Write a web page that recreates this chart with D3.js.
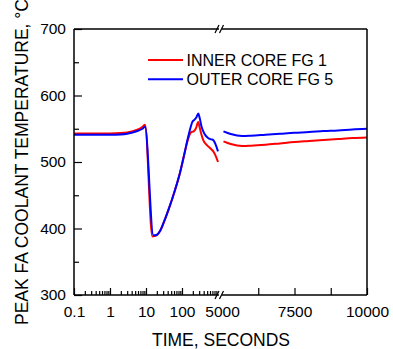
<!DOCTYPE html>
<html>
<head>
<meta charset="utf-8">
<script src="https://cdn.jsdelivr.net/npm/d3@7"></script>
<style>
  body { margin: 0; background: #fff; }
  svg { font-family: "Liberation Sans", Arial, sans-serif; }
</style>
</head>
<body>
<div id="chart"></div>
<script>
// data (time in seconds, temperature in C)
// left part of the axis is log (0.1 - 1000 s), right part is linear (5000 - 10000 s)
var innerLeftT = [0.1, 1, 2, 3, 4, 6, 8, 9.4, 15, 17, 20, 25, 30, 42, 64, 88, 114, 140, 160, 180, 210, 240, 284, 300, 340, 390, 500, 600, 740, 850, 1000];
var innerLeftV = [543, 543, 543.5, 544.5, 546, 549, 553, 556, 388, 388.5, 390, 397, 407, 428, 458, 484, 510, 530, 540, 545, 546, 550, 560, 555, 543, 533, 525, 521, 516, 510, 500];
var outerLeftT = [0.1, 1, 2, 3, 4, 6, 8, 9.4, 16, 18, 21, 25, 30, 42, 64, 88, 114, 150, 175, 193, 216, 250, 284, 310, 350, 390, 450, 530, 650, 740, 850, 1000];
var outerLeftV = [541, 541, 541.5, 542.5, 544, 547, 550, 553, 390, 390, 391.5, 397, 407, 428, 458, 484, 510, 539, 553, 560, 563, 567, 573, 566, 553, 546, 540, 536, 534, 533, 527, 516];

var rightT = [5050, 5300, 5700, 6000, 6500, 7000, 7500, 8000, 8500, 9000, 9500, 10000];
var innerRightV = [531, 527, 524, 524.5, 526, 528, 530, 531.5, 533, 534.5, 536, 537];
var outerRightV = [546, 542, 539, 539.5, 541, 542.5, 544, 545, 546.5, 547.5, 549, 550];

var yTicks = [300, 400, 500, 600, 700];
var yMinor = [350, 450, 550, 650];
var logTicks = [0.1, 1, 10, 100];
var logMinor = [0.2, 0.3, 0.4, 0.5, 0.6, 0.7, 0.8, 0.9, 2, 3, 4, 5, 6, 7, 8, 9,
                20, 30, 40, 50, 60, 70, 80, 90, 200, 300, 400, 500, 600, 700, 800, 900];
var linTicks = [5000, 6250, 7500, 8750, 10000];
var linLabels = [5000, 7500, 10000];

var seriesNames = ["INNER CORE FG 1", "OUTER CORE FG 5"];
var colors = ["#ff0000", "#0000ff"];

var svgWidth = 393, svgHeight = 349;
var plotLeft = 74, plotRight = 367, plotTop = 29, plotBottom = 295;

var svg = d3.select("#chart").append("svg")
    .attr("width", svgWidth)
    .attr("height", svgHeight);

var xLog = d3.scaleLog().domain([0.1, 1000]).range([plotLeft, 218]);
var xLin = d3.scaleLinear().domain([5000, 10000]).range([222, plotRight]);
var y = d3.scaleLinear().domain([300, 700]).range([plotBottom, plotTop]);

// curves
var lineLog = d3.line().x(d => xLog(d[0])).y(d => y(d[1])).curve(d3.curveMonotoneX);
var lineLin = d3.line().x(d => xLin(d[0])).y(d => y(d[1])).curve(d3.curveMonotoneX);

var curves = [
  { left: d3.zip(innerLeftT, innerLeftV), right: d3.zip(rightT, innerRightV), color: colors[0] },
  { left: d3.zip(outerLeftT, outerLeftV), right: d3.zip(rightT, outerRightV), color: colors[1] }
];

curves.forEach(function(c) {
  svg.append("path").attr("d", lineLog(c.left))
    .attr("fill", "none").attr("stroke", c.color).attr("stroke-width", 2)
    .attr("stroke-linejoin", "round");
  svg.append("path").attr("d", lineLin(c.right))
    .attr("fill", "none").attr("stroke", c.color).attr("stroke-width", 2)
    .attr("stroke-linejoin", "round");
});

// y axis
svg.append("g")
  .attr("transform", `translate(${plotLeft},0)`)
  .call(d3.axisLeft(y).tickValues(yTicks).tickSizeInner(-8).tickSizeOuter(0).tickPadding(8));
svg.append("g")
  .attr("transform", `translate(${plotLeft},0)`)
  .call(d3.axisLeft(y).tickValues(yMinor).tickSizeInner(-5).tickSizeOuter(0).tickFormat(""));

// bottom axis, log part
svg.append("g")
  .attr("transform", `translate(0,${plotBottom})`)
  .call(d3.axisBottom(xLog).tickValues(logTicks).tickSizeInner(-7).tickSizeOuter(0).tickPadding(11)
        .tickFormat(d => d < 1 ? "0.1" : d3.format("d")(d)));
svg.append("g")
  .attr("transform", `translate(0,${plotBottom})`)
  .call(d3.axisBottom(xLog).tickValues(logMinor).tickSizeInner(-4).tickSizeOuter(0).tickFormat(""));

// bottom axis, linear part
var linAxis = svg.append("g")
  .attr("transform", `translate(0,${plotBottom})`)
  .call(d3.axisBottom(xLin).tickValues(linTicks).tickSizeInner(-7).tickSizeOuter(0).tickPadding(11)
        .tickFormat(d => linLabels.indexOf(d) >= 0 ? d : ""));
linAxis.selectAll(".tick line").filter(d => d == 5000).remove();

svg.selectAll(".domain").remove();
svg.selectAll(".tick line").attr("stroke", "#000").attr("stroke-width", 1.2);
svg.selectAll(".tick text").attr("font-size", "15.5px").attr("fill", "#000")
  .attr("font-family", "'Liberation Sans', Arial, sans-serif");

// frame with breaks
var frame = svg.append("g").attr("stroke", "#000").attr("stroke-width", 1.5).attr("fill", "none");
frame.append("line").attr("x1", plotLeft).attr("x2", plotLeft).attr("y1", plotTop).attr("y2", plotBottom);
frame.append("line").attr("x1", plotRight).attr("x2", plotRight).attr("y1", plotTop).attr("y2", plotBottom);
[plotTop, plotBottom].forEach(function(yy) {
  frame.append("line").attr("x1", plotLeft).attr("x2", 219).attr("y1", yy).attr("y2", yy);
  frame.append("line").attr("x1", 222).attr("x2", plotRight).attr("y1", yy).attr("y2", yy);
  frame.append("line").attr("x1", 215).attr("x2", 219).attr("y1", yy + 4).attr("y2", yy - 4).attr("stroke-width", 1.2);
  frame.append("line").attr("x1", 219.5).attr("x2", 223.5).attr("y1", yy + 4).attr("y2", yy - 4).attr("stroke-width", 1.2);
});

// titles
svg.append("text")
  .attr("x", 221).attr("y", 346)
  .attr("text-anchor", "middle")
  .attr("font-size", "17.5px")
  .text("TIME, SECONDS");

svg.append("text")
  .attr("transform", "translate(27.5,162) rotate(-90)")
  .attr("text-anchor", "middle")
  .attr("font-size", "17.5px")
  .text("PEAK FA COOLANT TEMPERATURE, °C");

// legend
var legend = svg.append("g");
seriesNames.forEach(function(name, i) {
  var ly = 60 + i * 19.3;
  legend.append("line")
    .attr("x1", 148).attr("x2", 183).attr("y1", ly).attr("y2", ly)
    .attr("stroke", colors[i]).attr("stroke-width", 2);
  legend.append("text")
    .attr("x", 186.5).attr("y", ly).attr("dy", "0.36em")
    .attr("font-size", "16px")
    .text(name);
});
</script>
</body>
</html>
